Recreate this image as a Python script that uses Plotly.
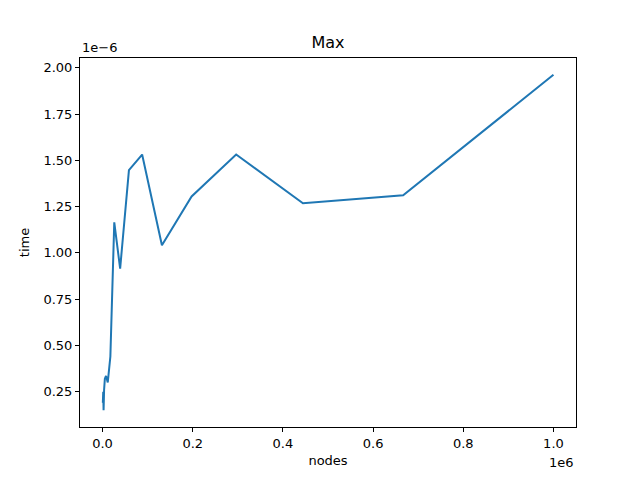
import plotly.graph_objects as go

# nodes (geometric steps) and max time in seconds
nodes = [677, 1015, 1522, 2284, 3425, 5138, 7707, 11561, 17342, 26012,
         39018, 58528, 87791, 131687, 197531, 296296, 444444, 666667, 1000000]
max_time = [0.19e-6, 0.16e-6, 0.25e-6, 0.15e-6, 0.26e-6, 0.32e-6, 0.335e-6, 0.30e-6, 0.44e-6, 1.165e-6,
            0.915e-6, 1.447e-6, 1.531e-6, 1.041e-6, 1.305e-6, 1.531e-6, 1.268e-6, 1.311e-6, 1.962e-6]

x_ticks = [0, 0.2e6, 0.4e6, 0.6e6, 0.8e6, 1.0e6]
x_labels = ["0.0", "0.2", "0.4", "0.6", "0.8", "1.0"]
y_ticks = [0.25e-6, 0.5e-6, 0.75e-6, 1.0e-6, 1.25e-6, 1.5e-6, 1.75e-6, 2.0e-6]
y_labels = ["0.25", "0.50", "0.75", "1.00", "1.25", "1.50", "1.75", "2.00"]

fig = go.Figure()
fig.add_trace(go.Scatter(x=nodes, y=max_time, mode="lines",
                         line=dict(color="#1f77b4", width=2)))

axis_style = dict(showgrid=False, zeroline=False, showline=True, linecolor="black",
                  linewidth=1, mirror=True, ticks="outside", ticklen=4, tickcolor="black",
                  tickfont=dict(size=13, color="black"))

fig.update_layout(
    width=640, height=480,
    margin=dict(l=80, r=64, t=58, b=53),
    paper_bgcolor="white", plot_bgcolor="white",
    font=dict(family="DejaVu Sans", size=13, color="black"),
    showlegend=False,
    title=dict(text="Max", x=0.5, xanchor="center", xref="paper", y=1 - 42 / 480,
               yanchor="middle", font=dict(size=16)),
    xaxis=dict(range=[-0.05e6, 1.05e6], tickvals=x_ticks, ticktext=x_labels,
               title=dict(text="nodes", standoff=6, font=dict(size=13)), **axis_style),
    yaxis=dict(range=[0.0594e-6, 2.0526e-6], tickvals=y_ticks, ticktext=y_labels,
               title=dict(text="time", standoff=10, font=dict(size=13)), **axis_style),
)

# offset labels like matplotlib's scientific notation
fig.add_annotation(text="1e6", xref="paper", yref="paper", x=1, y=0, yshift=-26,
                   xanchor="right", yanchor="top", showarrow=False, font=dict(size=13))
fig.add_annotation(text="1e\u22126", xref="paper", yref="paper", x=0, y=1,
                   xanchor="left", yanchor="bottom", showarrow=False, yshift=1,
                   font=dict(size=13))

fig.write_html("out.html", config={"displayModeBar": False},
               post_script="document.body.style.margin='0';")
